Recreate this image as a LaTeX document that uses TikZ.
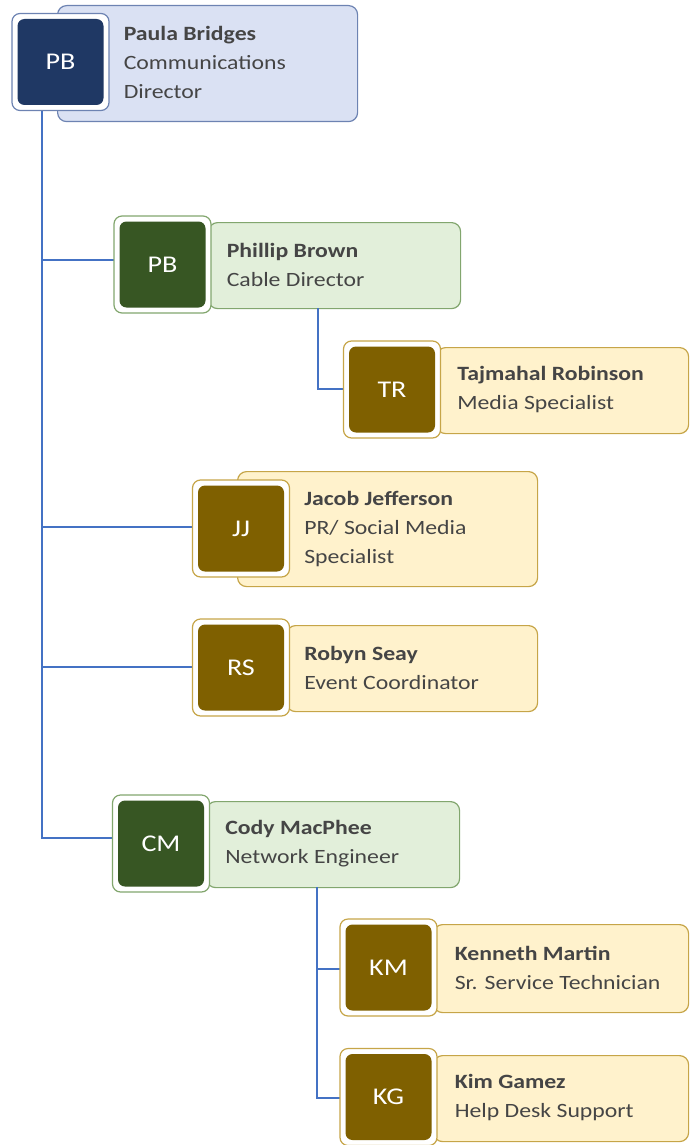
\documentclass[tikz,border=0pt]{standalone}
\usepackage{fontspec}
\setmainfont{Carlito}
\newfontfamily\cardfont[FakeStretch=1.17]{Carlito}
\usetikzlibrary{positioning}
\definecolor{navy}{HTML}{1F3864}
\definecolor{navyline}{HTML}{6D83B2}
\definecolor{navyfill}{HTML}{DAE1F3}
\definecolor{moss}{HTML}{375623}
\definecolor{mossline}{HTML}{82A66E}
\definecolor{mossfill}{HTML}{E2EFDA}
\definecolor{gold}{HTML}{7F6000}
\definecolor{goldline}{HTML}{C6A548}
\definecolor{goldfill}{HTML}{FFF2CC}
\definecolor{wire}{HTML}{4472C4}
\definecolor{ink}{HTML}{454545}
\tikzset{
      card/.style    = {draw, line width=1.2pt, rounded corners=9pt, anchor=north west, inner sep=0pt},
      frame/.style   = {draw, fill=white, line width=1.2pt, rounded corners=8pt, inner sep=0pt, minimum size=97},
      initials/.style = {rounded corners=7pt, inner sep=0pt, minimum size=86, text=white, font=\cardfont\fontsize{24}{24}\selectfont},
      info/.style    = {align=left, inner sep=0pt, text=ink, font=\cardfont\fontsize{20.3}{29}\selectfont},
      orgline/.style = {wire, line width=1.5pt},
    }

\begin{document}
\begin{tikzpicture}[x=1pt, y=-1pt]
    \useasboundingbox (0,0) rectangle (689,1145);
    % cards behind the avatars
    \node [card, draw=navyline, fill=navyfill, minimum width=300, minimum height=116] (pbC) at (57,5) {};
    \node [card, draw=mossline, fill=mossfill, minimum width=252, minimum height=86] (phC) at (208,222) {};
    \node [card, draw=goldline, fill=goldfill, minimum width=252, minimum height=86] (trC) at (436,347) {};
    \node [card, draw=goldline, fill=goldfill, minimum width=300, minimum height=115] (jjC) at (237,471) {};
    \node [card, draw=goldline, fill=goldfill, minimum width=251, minimum height=86] (rsC) at (286,625) {};
    \node [card, draw=mossline, fill=mossfill, minimum width=253, minimum height=86] (cmC) at (206,801) {};
    \node [card, draw=goldline, fill=goldfill, minimum width=255, minimum height=88] (kmC) at (433,924) {};
    \node [card, draw=goldline, fill=goldfill, minimum width=255, minimum height=86] (kgC) at (433,1055) {};

    \coordinate (trunk) at (42,110);
    \coordinate (phDrop) at (318,308);
    \coordinate (cmDrop) at (317,887);

    % connectors
    \draw [orgline] (trunk) |- (162,260) coordinate (phIn);
    \draw [orgline] (trunk) |- (241,527) coordinate (jjIn);
    \draw [orgline] (trunk) |- (241,667) coordinate (rsIn);
    \draw [orgline] (trunk) |- (161,838) coordinate (cmIn);
    \draw [orgline] (phDrop) |- (392,389) coordinate (trIn);
    \draw [orgline] (cmDrop) |- (388,969) coordinate (kmIn);
    \draw [orgline] (cmDrop) |- (388,1098) coordinate (kgIn);

    % avatars
    \node [frame, draw=navyline] (pbF) at (60.5,62) {};
    \node [initials, fill=navy] (pb) at (pbF) {PB};
    \node [frame, draw=mossline] (phF) at (162.5,264.5) {};
    \node [initials, fill=moss] (ph) at (phF) {PB};
    \node [frame, draw=goldline] (trF) at (392,389.5) {};
    \node [initials, fill=gold] (tr) at (trF) {TR};
    \node [frame, draw=goldline] (jjF) at (241,528.5) {};
    \node [initials, fill=gold] (jj) at (jjF) {JJ};
    \node [frame, draw=goldline] (rsF) at (241,667.5) {};
    \node [initials, fill=gold] (rs) at (rsF) {RS};
    \node [frame, draw=mossline] (cmF) at (161,843.5) {};
    \node [initials, fill=moss] (cm) at (cmF) {CM};
    \node [frame, draw=goldline] (kmF) at (388.5,967.5) {};
    \node [initials, fill=gold] (km) at (kmF) {KM};
    \node [frame, draw=goldline] (kgF) at (388.5,1097) {};
    \node [initials, fill=gold] (kg) at (kgF) {KG};

    % names and titles
    \node [info, right=14pt of pbF] (pbT) {\textbf{Paula Bridges}\\Communications\\Director};
    \node [info, right=15pt of phF] (phT) {\textbf{Phillip Brown}\\Cable Director};
    \node [info, right=16pt of trF] (trT) {\textbf{Tajmahal Robinson}\\Media Specialist};
    \node [info, right=14pt of jjF] (jjT) {\textbf{Jacob Jefferson}\\PR/ Social Media\\Specialist};
    \node [info, right=14pt of rsF] (rsT) {\textbf{Robyn Seay}\\Event Coordinator};
    \node [info, right=15pt of cmF] (cmT) {\textbf{Cody MacPhee}\\Network Engineer};
    \node [info, right=17pt of kmF] (kmT) {\textbf{Kenneth Martin}\\Sr. Service Technician};
    \node [info, right=17pt of kgF] (kgT) {\textbf{Kim Gamez}\\Help Desk Support};
\end{tikzpicture}
\end{document}
